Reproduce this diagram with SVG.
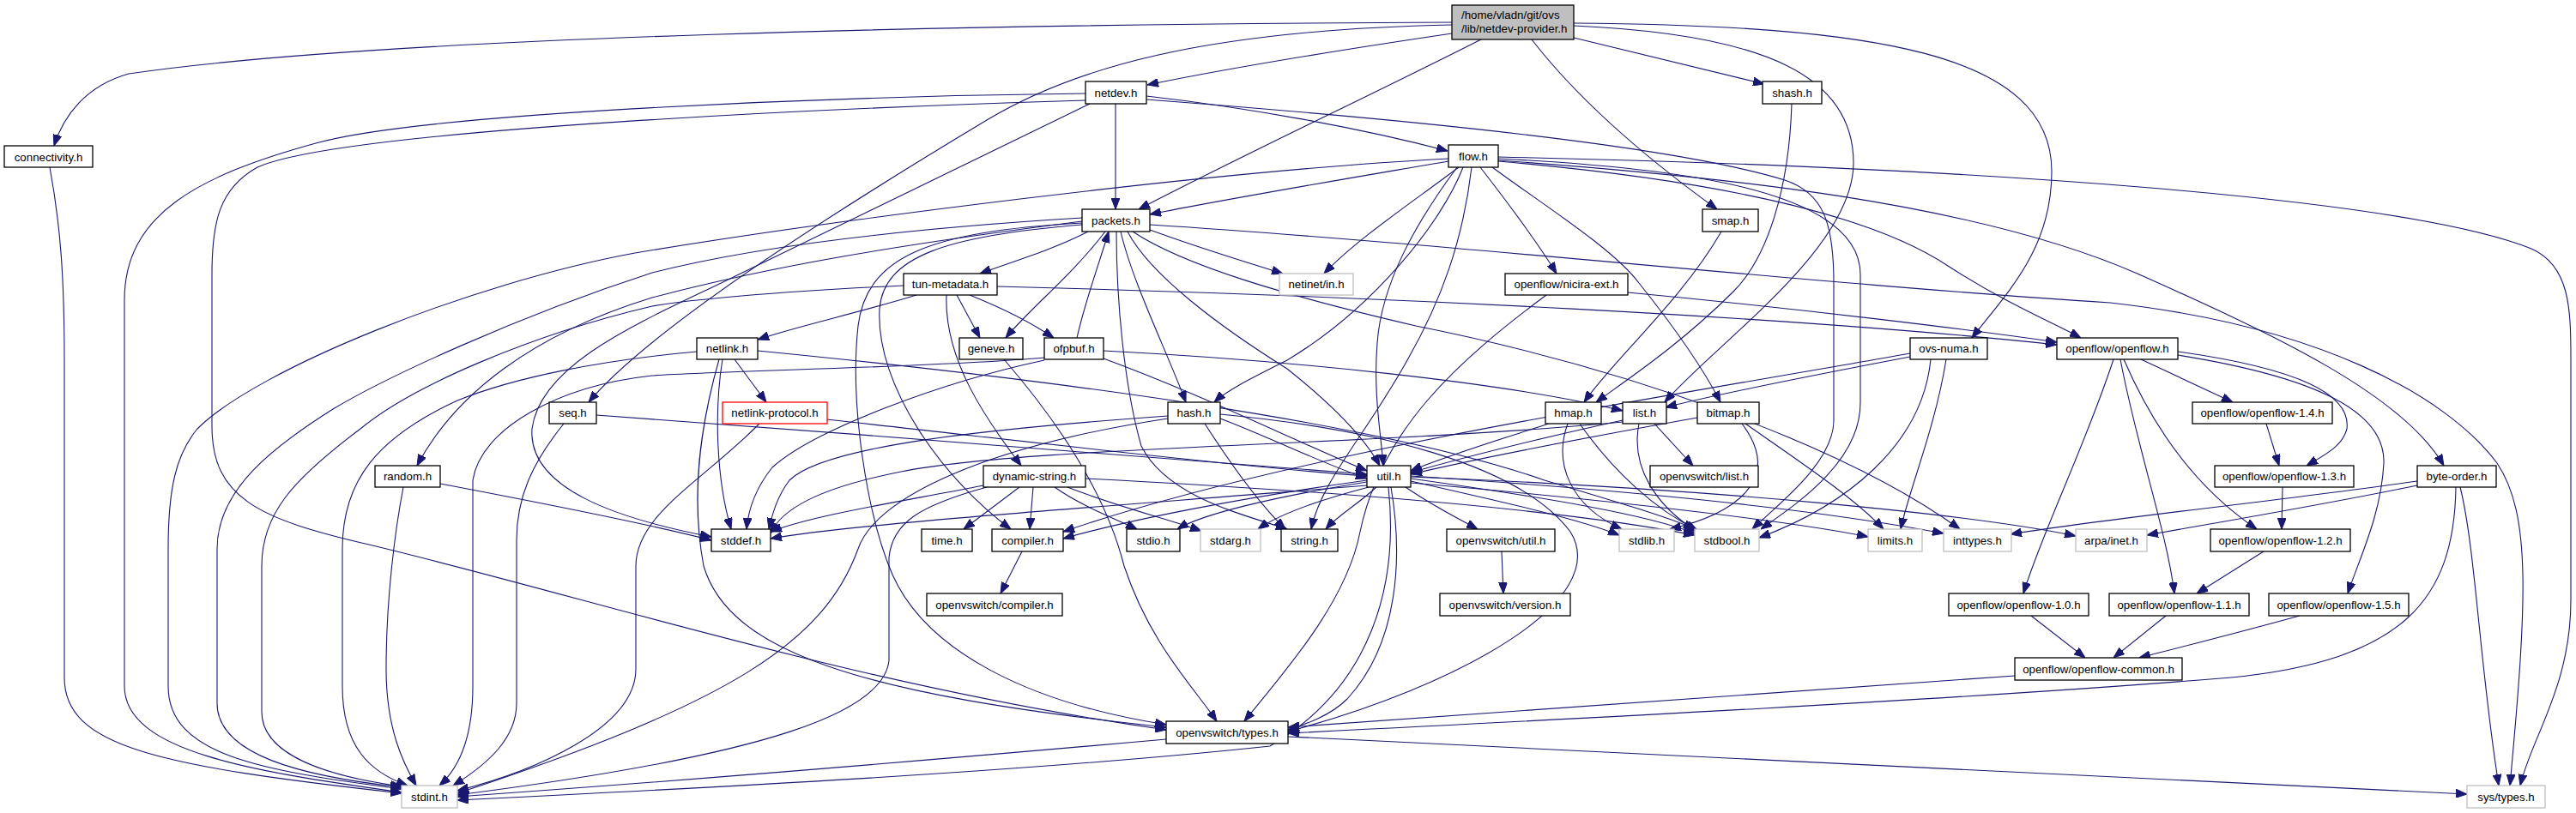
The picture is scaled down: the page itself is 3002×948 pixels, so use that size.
<svg xmlns="http://www.w3.org/2000/svg" width="3002" height="948" viewBox="0 0 3002 948">
<defs>
<marker id="ah" markerWidth="13" markerHeight="10" refX="13" refY="5" orient="auto" markerUnits="userSpaceOnUse"><path d="M0,0 L13,5 L0,10 z" fill="#191970" stroke="#191970" stroke-width="1"/></marker>
<style>
.n rect{fill:#fff;stroke:#000;stroke-width:1.3}
.g rect{fill:#fff;stroke:#bfbfbf;stroke-width:1.3}
.r rect{fill:#fff;stroke:#ff0000;stroke-width:1.3}
text{font-family:"Liberation Sans",Arial,Helvetica,sans-serif;font-size:13.3px;text-anchor:middle;fill:#000}
#edges path{fill:none;stroke:#191970;stroke-width:1.1;marker-end:url(#ah)}
</style>
</defs>
<rect width="3002" height="948" fill="#fff"/>
<g id="edges">
<path d="M1692,26 C1150,28 450,42 150,86 C100,100 74,135 63,170"/>
<path d="M1692,39 C1550,60 1420,82 1337,99"/>
<path d="M1692,29 C1400,35 1250,80 1150,140 C1000,230 760,380 686,469"/>
<path d="M1726,46 C1600,110 1450,180 1327,244"/>
<path d="M1785,46 C1850,130 1940,200 2001,244"/>
<path d="M1834,44 C1920,65 2000,85 2056,98"/>
<path d="M1834,30 C2060,40 2160,90 2160,190 C2160,290 2000,400 1940,469"/>
<path d="M1834,27 C2180,30 2391,60 2391,200 C2391,290 2340,340 2298,394"/>
<path d="M58,195 C70,260 75,320 75,420 L75,790 C75,870 180,893 468,925"/>
<path d="M1300,121 L1300,244"/>
<path d="M1336,112 C1450,125 1580,148 1687,176"/>
<path d="M1336,116 C1650,140 1950,170 2080,210 C2125,225 2137,260 2137,330 L2137,490 C2137,540 2070,590 2042,617"/>
<path d="M1265,109 C1000,112 500,130 368,167 C230,205 145,250 145,350 L145,800 C145,878 300,900 468,924"/>
<path d="M1265,117 C1000,125 400,150 300,195 C255,220 247,260 247,320 L247,497 C247,580 300,605 430,635 C700,700 1000,800 1359,851"/>
<path d="M1270,121 L861,320 C760,370 630,420 620,500 C615,570 720,605 829,626"/>
<path d="M2088,121 C2085,220 2060,300 2020,340 C1960,400 1900,440 1860,469"/>
<path d="M2006,270 C1960,350 1880,420 1846,469"/>
<path d="M1688,188 C1560,210 1440,230 1340,250"/>
<path d="M1746,183 C2300,195 2800,230 2950,290 C2995,310 2996,360 2996,420 L2996,700 C2996,800 2950,860 2937,916"/>
<path d="M1700,195 C1640,240 1580,280 1543,319"/>
<path d="M1746,185 C1950,195 2168,220 2168,320 L2168,470 C2168,540 2090,590 2052,617"/>
<path d="M1688,185 C1400,200 950,260 740,295 C550,330 300,430 230,500 C205,530 196,570 196,640 L196,800 C196,880 300,898 468,920"/>
<path d="M1715,195 C1705,280 1680,350 1640,420 C1590,510 1540,560 1528,617"/>
<path d="M1739,195 C1800,240 1880,290 1910,330 C1950,380 1985,430 2005,469"/>
<path d="M1746,187 C2000,205 2300,235 2493,320 C2650,390 2800,460 2848,543"/>
<path d="M1725,195 C1760,240 1790,280 1814,319"/>
<path d="M1746,188 C2000,210 2180,250 2270,310 C2340,355 2390,375 2425,394"/>
<path d="M1705,195 C1680,260 1600,360 1500,420 C1460,440 1430,455 1415,469"/>
<path d="M1698,195 C1650,260 1610,330 1605,400 C1600,460 1610,510 1612,543"/>
<path d="M1268,270 C1230,290 1180,305 1142,319"/>
<path d="M1340,268 C1400,290 1450,305 1495,319"/>
<path d="M1288,270 C1250,320 1200,360 1172,394"/>
<path d="M1306,270 C1320,330 1360,410 1382,469"/>
<path d="M1314,270 C1340,320 1420,380 1500,430 C1550,470 1590,510 1608,543"/>
<path d="M1301,270 C1301,350 1310,450 1330,520 C1360,580 1450,600 1500,617"/>
<path d="M1320,270 C1380,310 1500,345 1650,380 C1900,430 2150,520 2284,617"/>
<path d="M1261,258 C1050,285 900,310 760,347 C620,390 530,460 486,543"/>
<path d="M1261,254 C1000,270 850,295 760,318 C600,370 450,440 388,477 C320,520 253,570 253,640 L253,820 C253,880 350,905 468,918"/>
<path d="M1261,262 C1100,275 1030,300 1025,360 C1020,450 1100,560 1178,617"/>
<path d="M1261,260 C1080,270 1010,300 1000,380 C990,470 1010,600 1040,670 C1080,760 1200,820 1359,845"/>
<path d="M1340,262 C1700,285 2100,330 2459,353 C2700,380 2850,460 2910,540 C2950,600 2945,700 2925,916"/>
<path d="M1068,344 C1000,365 930,380 883,396"/>
<path d="M1103,344 C1100,420 1150,490 1190,543"/>
<path d="M1115,344 L1142,394"/>
<path d="M1130,344 C1170,360 1200,375 1228,394"/>
<path d="M1162,334 C1600,345 2100,370 2397,402"/>
<path d="M1053,333 C900,340 800,350 760,357 C620,390 480,450 420,500 C340,560 305,600 305,660 L305,830 C305,880 380,905 468,917"/>
<path d="M856,419 L893,469"/>
<path d="M842,419 C832,480 835,560 852,617"/>
<path d="M812,410 C700,420 600,440 533,467 C440,510 399,560 399,640 L399,800 C399,870 430,900 475,916"/>
<path d="M838,419 C815,500 805,580 820,660 C850,760 1000,810 1359,848"/>
<path d="M883,409 C1200,440 1600,490 1800,560 C1900,590 1950,605 1975,617"/>
<path d="M885,494 C820,560 741,600 741,660 L741,780 C741,850 620,900 533,922"/>
<path d="M963,489 C1200,515 1450,545 1593,555"/>
<path d="M1255,394 C1265,350 1280,310 1292,270"/>
<path d="M1217,417 C1100,428 850,432 760,438 C650,450 560,500 551,560 L551,800 C551,870 530,900 512,916"/>
<path d="M1217,420 C1100,445 950,500 900,545 C880,570 872,595 870,617"/>
<path d="M1286,409 C1500,420 1750,445 1891,479"/>
<path d="M1286,418 C1400,460 1500,510 1593,549"/>
<path d="M1170,419 C1240,500 1290,580 1310,660 C1340,750 1390,800 1418,841"/>
<path d="M2226,412 C1900,470 1500,530 1239,620"/>
<path d="M2226,416 C2100,440 2000,460 1941,475"/>
<path d="M2250,419 C2240,520 2150,590 2050,627"/>
<path d="M2268,419 C2255,500 2225,570 2215,617"/>
<path d="M2463,419 C2430,520 2380,620 2358,692"/>
<path d="M2471,419 C2490,520 2525,620 2534,692"/>
<path d="M2475,419 C2510,500 2560,570 2630,617"/>
<path d="M2495,419 L2602,469"/>
<path d="M2538,410 C2680,430 2740,460 2735,500 C2730,520 2710,530 2688,543"/>
<path d="M2538,414 C2700,440 2780,480 2778,540 C2775,600 2750,650 2736,692"/>
<path d="M1897,341 C2100,360 2300,385 2397,399"/>
<path d="M1802,344 C1700,420 1610,500 1585,620 C1570,700 1500,780 1450,841"/>
<path d="M657,494 C620,540 602,580 602,630 L602,820 C602,860 570,890 528,916"/>
<path d="M695,484 C1000,505 1400,540 1593,553"/>
<path d="M470,568 C460,620 450,700 450,780 C450,850 470,890 485,916"/>
<path d="M513,564 C650,590 760,612 829,630"/>
<path d="M1361,485 C1150,500 960,520 920,560 C905,580 900,600 896,617"/>
<path d="M1361,488 C1150,520 1020,580 1000,640 C960,750 850,820 533,925"/>
<path d="M1404,494 C1440,550 1470,590 1498,617"/>
<path d="M1422,488 C1480,510 1540,540 1593,558"/>
<path d="M1422,483 C1600,500 1770,540 1830,620 C1880,700 1700,800 1501,853"/>
<path d="M1805,494 C1740,515 1690,530 1644,549"/>
<path d="M1827,494 C1810,540 1830,590 1890,617"/>
<path d="M1841,494 C1880,550 1930,595 1978,618"/>
<path d="M1891,490 C1800,510 1700,535 1644,551"/>
<path d="M1891,492 C1600,520 1200,520 1050,550 C950,570 910,595 898,622"/>
<path d="M1910,494 C1900,545 1930,590 1978,620"/>
<path d="M1928,494 L1973,543"/>
<path d="M1978,487 C1850,510 1720,535 1644,553"/>
<path d="M2030,494 C2080,560 2020,600 1946,617"/>
<path d="M2034,494 C2100,540 2160,580 2195,617"/>
<path d="M2641,494 L2656,543"/>
<path d="M2660,568 L2659,617"/>
<path d="M2638,643 L2560,692"/>
<path d="M2367,718 L2430,767"/>
<path d="M2524,718 L2463,767"/>
<path d="M2680,718 C2600,740 2540,755 2493,767"/>
<path d="M2348,788 C2000,810 1700,835 1501,848"/>
<path d="M2817,561 C2650,585 2450,605 2343,623"/>
<path d="M2817,566 C2700,590 2580,610 2502,624"/>
<path d="M2867,568 C2885,640 2890,780 2912,916"/>
<path d="M2862,568 C2860,700 2800,770 2600,790 C2300,815 1800,840 1501,855"/>
<path d="M1359,862 C1100,885 800,910 533,929"/>
<path d="M1501,859 C2000,880 2500,905 2875,926"/>
<path d="M1604,568 C1580,590 1560,600 1545,617"/>
<path d="M1638,568 C1670,590 1700,605 1722,617"/>
<path d="M1621,568 C1635,650 1630,750 1570,815 C1550,835 1520,845 1501,851"/>
<path d="M1644,561 C1750,585 1840,605 1887,624"/>
<path d="M1644,558 C1800,580 1920,600 1975,622"/>
<path d="M1644,563 C1900,585 2100,610 2177,626"/>
<path d="M1644,555 C1950,575 2150,600 2265,622"/>
<path d="M1644,556 C2000,570 2300,600 2419,625"/>
<path d="M1593,566 C1300,590 1000,610 898,628"/>
<path d="M1593,560 C1450,580 1320,605 1239,628"/>
<path d="M1593,562 C1480,580 1400,600 1372,617"/>
<path d="M1595,568 C1530,585 1490,600 1466,617"/>
<path d="M1618,568 C1630,680 1600,800 1480,870 C1200,900 800,920 533,933"/>
<path d="M1146,566 C1050,585 950,600 898,620"/>
<path d="M1150,568 C1070,590 1040,610 1036,650 L1036,770 C1030,830 900,880 533,927"/>
<path d="M1188,568 L1123,617"/>
<path d="M1204,568 L1200,617"/>
<path d="M1229,568 C1260,590 1300,605 1325,617"/>
<path d="M1244,568 C1300,590 1360,605 1400,619"/>
<path d="M1265,558 C1500,570 1800,590 1975,624"/>
<path d="M1191,643 L1166,692"/>
<path d="M1750,643 L1752,692"/>
</g>
<g id="n-main" class="n"><rect x="1692" y="6" width="142" height="40" style="fill:#bfbfbf"/><text x="1703" y="22" style="text-anchor:start">/home/vladn/git/ovs</text><text x="1703" y="38" style="text-anchor:start">/lib/netdev-provider.h</text></g>
<g id="n-connectivity" class="n"><rect x="5" y="170" width="103" height="25"/><text x="56.5" y="187.5">connectivity.h</text></g>
<g id="n-netdev" class="n"><rect x="1265" y="95" width="71" height="26"/><text x="1300.5" y="112.5">netdev.h</text></g>
<g id="n-shash" class="n"><rect x="2054" y="95" width="69" height="26"/><text x="2088.5" y="112.5">shash.h</text></g>
<g id="n-flow" class="n"><rect x="1688" y="169" width="58" height="26"/><text x="1717" y="186.5">flow.h</text></g>
<g id="n-packets" class="n"><rect x="1261" y="244" width="79" height="26"/><text x="1300.5" y="261.5">packets.h</text></g>
<g id="n-smap" class="n"><rect x="1984" y="244" width="65" height="26"/><text x="2016.5" y="261.5">smap.h</text></g>
<g id="n-tun-metadata" class="n"><rect x="1053" y="319" width="109" height="25"/><text x="1107.5" y="336">tun-metadata.h</text></g>
<g id="n-netinet-in" class="g"><rect x="1491" y="319" width="86" height="25"/><text x="1534" y="336">netinet/in.h</text></g>
<g id="n-nicira-ext" class="n"><rect x="1754" y="319" width="143" height="25"/><text x="1825.5" y="336">openflow/nicira-ext.h</text></g>
<g id="n-netlink" class="n"><rect x="812" y="394" width="71" height="25"/><text x="847.5" y="411">netlink.h</text></g>
<g id="n-geneve" class="n"><rect x="1118" y="394" width="74" height="25"/><text x="1155" y="411">geneve.h</text></g>
<g id="n-ofpbuf" class="n"><rect x="1217" y="394" width="69" height="25"/><text x="1251.5" y="411">ofpbuf.h</text></g>
<g id="n-ovs-numa" class="n"><rect x="2226" y="394" width="90" height="25"/><text x="2271" y="411">ovs-numa.h</text></g>
<g id="n-openflow" class="n"><rect x="2397" y="394" width="141" height="25"/><text x="2467.5" y="411">openflow/openflow.h</text></g>
<g id="n-seq" class="n"><rect x="640" y="469" width="55" height="25"/><text x="667.5" y="486">seq.h</text></g>
<g id="n-netlink-protocol" class="r"><rect x="842" y="469" width="122" height="25"/><text x="903" y="486">netlink-protocol.h</text></g>
<g id="n-hash" class="n"><rect x="1361" y="469" width="61" height="25"/><text x="1391.5" y="486">hash.h</text></g>
<g id="n-hmap" class="n"><rect x="1801" y="469" width="65" height="25"/><text x="1833.5" y="486">hmap.h</text></g>
<g id="n-list" class="n"><rect x="1891" y="469" width="51" height="25"/><text x="1916.5" y="486">list.h</text></g>
<g id="n-bitmap" class="n"><rect x="1978" y="469" width="72" height="25"/><text x="2014" y="486">bitmap.h</text></g>
<g id="n-of14" class="n"><rect x="2555" y="469" width="163" height="25"/><text x="2636.5" y="486">openflow/openflow-1.4.h</text></g>
<g id="n-random" class="n"><rect x="437" y="543" width="76" height="25"/><text x="475" y="560">random.h</text></g>
<g id="n-dynamic-string" class="n"><rect x="1146" y="543" width="119" height="25"/><text x="1205.5" y="560">dynamic-string.h</text></g>
<g id="n-util" class="n"><rect x="1593" y="543" width="51" height="25"/><text x="1618.5" y="560">util.h</text></g>
<g id="n-ovs-list" class="n"><rect x="1923" y="543" width="126" height="25"/><text x="1986" y="560">openvswitch/list.h</text></g>
<g id="n-of13" class="n"><rect x="2581" y="543" width="162" height="25"/><text x="2662" y="560">openflow/openflow-1.3.h</text></g>
<g id="n-byte-order" class="n"><rect x="2817" y="543" width="92" height="25"/><text x="2863" y="560">byte-order.h</text></g>
<g id="n-stddef" class="n"><rect x="829" y="617" width="69" height="26"/><text x="863.5" y="634.5">stddef.h</text></g>
<g id="n-time" class="n"><rect x="1074" y="617" width="59" height="26"/><text x="1103.5" y="634.5">time.h</text></g>
<g id="n-compiler" class="n"><rect x="1156" y="617" width="83" height="26"/><text x="1197.5" y="634.5">compiler.h</text></g>
<g id="n-stdio" class="n"><rect x="1313" y="617" width="62" height="26"/><text x="1344" y="634.5">stdio.h</text></g>
<g id="n-stdarg" class="g"><rect x="1399" y="617" width="70" height="26"/><text x="1434" y="634.5">stdarg.h</text></g>
<g id="n-string" class="n"><rect x="1493" y="617" width="66" height="26"/><text x="1526" y="634.5">string.h</text></g>
<g id="n-ovs-util" class="n"><rect x="1686" y="617" width="126" height="26"/><text x="1749" y="634.5">openvswitch/util.h</text></g>
<g id="n-stdlib" class="g"><rect x="1887" y="617" width="64" height="26"/><text x="1919" y="634.5">stdlib.h</text></g>
<g id="n-stdbool" class="g"><rect x="1975" y="617" width="75" height="26"/><text x="2012.5" y="634.5">stdbool.h</text></g>
<g id="n-limits" class="g"><rect x="2177" y="617" width="63" height="26"/><text x="2208.5" y="634.5">limits.h</text></g>
<g id="n-inttypes" class="g"><rect x="2265" y="617" width="79" height="26"/><text x="2304.5" y="634.5">inttypes.h</text></g>
<g id="n-arpa-inet" class="g"><rect x="2419" y="617" width="83" height="26"/><text x="2460.5" y="634.5">arpa/inet.h</text></g>
<g id="n-of12" class="n"><rect x="2576" y="617" width="163" height="26"/><text x="2657.5" y="634.5">openflow/openflow-1.2.h</text></g>
<g id="n-ovs-compiler" class="n"><rect x="1080" y="692" width="158" height="26"/><text x="1159" y="709.5">openvswitch/compiler.h</text></g>
<g id="n-ovs-version" class="n"><rect x="1678" y="692" width="152" height="26"/><text x="1754" y="709.5">openvswitch/version.h</text></g>
<g id="n-of10" class="n"><rect x="2271" y="692" width="163" height="26"/><text x="2352.5" y="709.5">openflow/openflow-1.0.h</text></g>
<g id="n-of11" class="n"><rect x="2458" y="692" width="163" height="26"/><text x="2539.5" y="709.5">openflow/openflow-1.1.h</text></g>
<g id="n-of15" class="n"><rect x="2644" y="692" width="163" height="26"/><text x="2725.5" y="709.5">openflow/openflow-1.5.h</text></g>
<g id="n-of-common" class="n"><rect x="2348" y="767" width="195" height="26"/><text x="2445.5" y="784.5">openflow/openflow-common.h</text></g>
<g id="n-ovs-types" class="n"><rect x="1359" y="841" width="142" height="26"/><text x="1430" y="858.5">openvswitch/types.h</text></g>
<g id="n-stdint" class="g"><rect x="468" y="916" width="65" height="26"/><text x="500.5" y="933.5">stdint.h</text></g>
<g id="n-sys-types" class="g"><rect x="2875" y="916" width="91" height="26"/><text x="2920.5" y="933.5">sys/types.h</text></g>
</svg>
